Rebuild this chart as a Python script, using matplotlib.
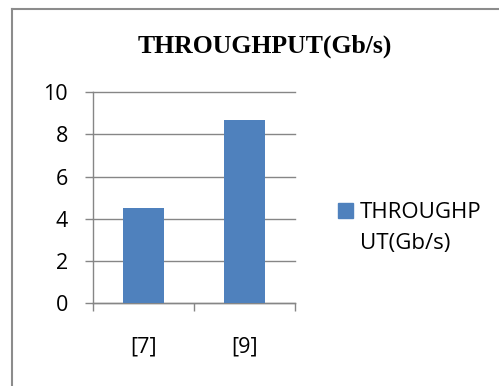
import matplotlib.pyplot as plt
from matplotlib.lines import Line2D
from matplotlib.patches import Rectangle

# data
categories = ["[7]", "[9]"]
throughput = [4.5, 8.7]
series_name = "THROUGHPUT(Gb/s)"
yticks = [0, 2, 4, 6, 8, 10]

BAR_COLOR = "#4F81BD"
GRID_COLOR = "#868686"
FRAME_COLOR = "#8C8C8C"
DPI = 100

plt.rcParams["font.family"] = ["Open Sans", "DejaVu Sans"]

fig = plt.figure(figsize=(4.99, 3.86), dpi=DPI)
ax = fig.add_axes([0.1858, 0.2142, 0.4054, 0.5467])

x = list(range(len(categories)))
ax.bar(x, throughput, width=0.4, color=BAR_COLOR, zorder=3)

ax.set_xlim(-0.5, len(categories) - 0.5)
ax.set_ylim(0, 10)
ax.set_yticks(yticks)
ax.set_yticklabels([str(v) for v in yticks])

# category labels on the major ticks, tick marks between categories
ax.set_xticks(x)
ax.set_xticklabels(categories)
ax.set_xticks([i - 0.5 for i in range(len(categories) + 1)], minor=True)
ax.tick_params(axis="x", which="major", length=0, pad=24, labelsize=15.5)
ax.tick_params(axis="x", which="minor", length=5.8, width=1.0, color=GRID_COLOR)
ax.tick_params(axis="y", length=5.8, width=1.0, color=GRID_COLOR, pad=12, labelsize=15.5)

ax.yaxis.grid(True, color=GRID_COLOR, linewidth=1.0, zorder=0)
for line in ax.get_ygridlines():
    line.set_clip_on(False)
ax.set_axisbelow(True)

for side in ["top", "right"]:
    ax.spines[side].set_visible(False)
for side in ["left", "bottom"]:
    ax.spines[side].set_color(GRID_COLOR)
    ax.spines[side].set_linewidth(1.0)

# chart title
fig.text(265 / 499, 1 - 53 / 386, series_name, ha="center", va="baseline",
         fontsize=18.5, fontweight="bold", family="Liberation Serif")

# legend entry, label wrapped over two lines
fig.patches.append(Rectangle((338.3 / 499, 1 - 217.7 / 386), 15 / 499, 15 / 386,
                             transform=fig.transFigure, color=BAR_COLOR))
fig.text(360 / 499, 1 - 217.7 / 386, series_name[:8], ha="left", va="baseline", fontsize=16)
fig.text(360 / 499, 1 - 249.5 / 386, series_name[8:], ha="left", va="baseline", fontsize=16)

# chart area frame (top and left edges)
fig.add_artist(Line2D([12 / 499, 1], [1 - 8.7 / 386] * 2, color=FRAME_COLOR, lw=1.5,
                      transform=fig.transFigure))
fig.add_artist(Line2D([11.7 / 499] * 2, [0, 1 - 8.7 / 386], color=FRAME_COLOR, lw=1.5,
                      transform=fig.transFigure))

fig.savefig("out.png", dpi=DPI, facecolor="white")
